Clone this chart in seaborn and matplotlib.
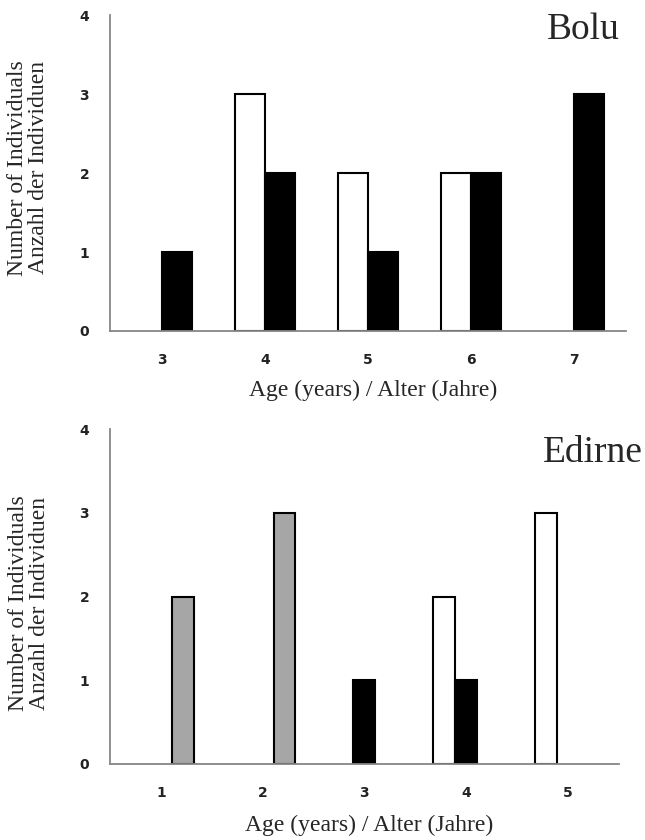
import pandas as pd
import matplotlib.pyplot as plt
import seaborn as sns
from matplotlib.ticker import FixedLocator

# Bolu: ages 3-7
bolu_ages = ['3', '4', '5', '6', '7']
bolu_white = [0, 3, 2, 2, 0]
bolu_black = [1, 2, 1, 2, 3]

# Edirne: ages 1-5
edirne_ages = ['1', '2', '3', '4', '5']
edirne_white = [0, 0, 0, 2, 3]
edirne_black = [0, 0, 1, 1, 0]
edirne_grey = [2, 3, 0, 0, 0]

y_ticks = [0, 1, 2, 3, 4]
ylabel = 'Number of Individuals\nAnzahl der Individuen'
xlabel = 'Age (years) / Alter (Jahre)'

colours = {'white': '#ffffff', 'black': '#000000', 'grey': '#a6a6a6'}


def long_df(ages, series):
    rows = []
    for name, vals in series.items():
        for a, v in zip(ages, vals):
            rows.append({'age': a, 'group': name, 'count': v})
    df = pd.DataFrame(rows)
    # empty bars are not drawn in the original
    return df[df['count'] > 0]


def draw(ax, ages, series, width, title, title_xy, xlab_y, ylab_y):
    df = long_df(ages, series)
    order = list(series.keys())
    sns.barplot(data=df, x='age', y='count', hue='group', order=ages,
                hue_order=order, palette=colours, width=width, dodge=True,
                edgecolor='black', linewidth=1.5, legend=False, ax=ax)
    ax.set_xlim(-0.5, len(ages) - 0.5)
    ax.set_ylim(0, 4)
    ax.set_yticks(y_ticks)
    # tick marks sit between the age groups, labels in the middle
    ax.xaxis.set_minor_locator(FixedLocator([i - 0.5 for i in range(len(ages) + 1)]))
    ax.tick_params(axis='x', which='major', length=0, pad=16)
    ax.tick_params(axis='x', which='minor', length=6, width=1.2, color='#868686')
    ax.tick_params(axis='y', length=6, width=1.2, color='#868686', pad=9)
    for lab in ax.get_xticklabels() + ax.get_yticklabels():
        lab.set_fontweight('bold')
        lab.set_fontsize(10)
        lab.set_color('#222222')
    for s in ['top', 'right']:
        ax.spines[s].set_visible(False)
    for s in ['left', 'bottom']:
        ax.spines[s].set_color('#868686')
        ax.spines[s].set_linewidth(1.3)
    ax.set_xlabel(xlabel, family='Liberation Serif', fontsize=17)
    ax.xaxis.set_label_coords(0.51, xlab_y)
    ax.set_ylabel(ylabel, family='Liberation Serif', fontsize=17, linespacing=0.95)
    ax.yaxis.label.set_va('center')
    ax.yaxis.set_label_coords(-0.159, ylab_y)
    ax.text(title_xy[0], title_xy[1], title, transform=ax.transAxes,
            ha='right', va='baseline', family='Liberation Serif', fontsize=27)


sns.set_style('white')
plt.rcParams['font.family'] = ['DejaVu Sans']

fig = plt.figure(figsize=(6.45, 8.4), dpi=100)
ax1 = fig.add_axes([0.1705, 0.606, 0.80, 0.376])
ax2 = fig.add_axes([0.1705, 0.0905, 0.789, 0.3985])

draw(ax1, bolu_ages, {'white': bolu_white, 'black': bolu_black}, 0.58,
     'Bolu', (0.988, 0.924), -0.155, 0.516)
draw(ax2, edirne_ages, {'white': edirne_white, 'black': edirne_black, 'grey': edirne_grey},
     0.645, 'Edirne', (1.046, 0.901), -0.152, 0.48)

plt.savefig('out.png', dpi=100)
plt.close(fig)
